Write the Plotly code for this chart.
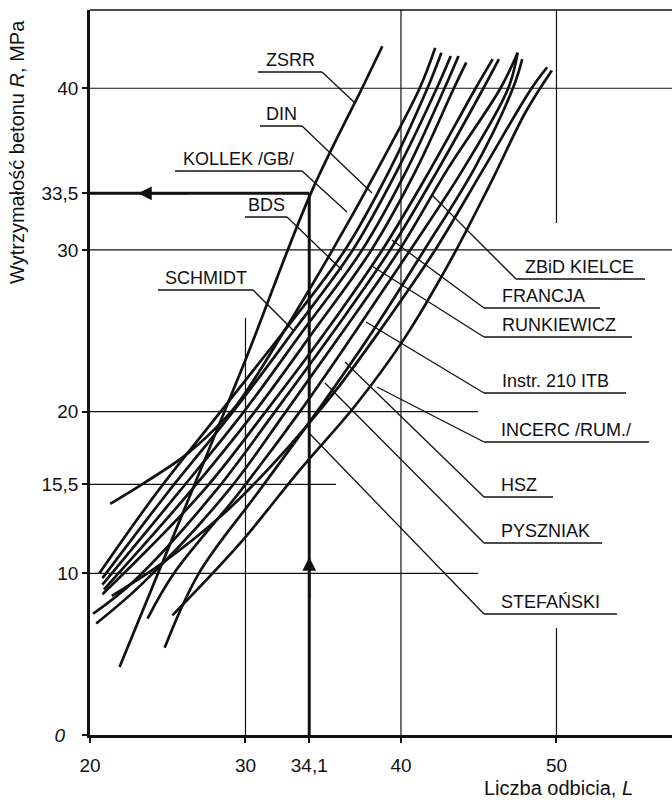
import plotly.graph_objects as go

# ---------------- data ----------------
# L = rebound number (Liczba odbicia), R = concrete strength in MPa
zsrr_L = [21.9, 26.0, 30.0, 34.2, 37.6, 38.8]
zsrr_R = [4.2, 13.8, 23.2, 33.5, 40.2, 42.6]

c1_L = [21.3, 23.5, 26.0, 28.0, 29.5, 32.5, 35.6, 38.5, 41.2, 42.2]
c1_R = [14.3, 15.6, 17.2, 18.9, 20.5, 25.0, 30.0, 35.0, 40.0, 42.5]
c2_L = [20.6, 24.3, 28.4, 32.5, 36.4, 39.3, 41.7, 42.6]
c2_R = [10.0, 15.0, 20.0, 25.0, 30.0, 35.0, 40.0, 42.2]
c3_L = [20.8, 25.0, 29.2, 33.1, 36.9, 39.8, 42.3, 43.2]
c3_R = [9.7, 15.0, 20.0, 25.0, 30.0, 35.0, 40.0, 42.0]
c4_L = [20.8, 25.7, 29.9, 33.7, 37.5, 40.4, 42.8, 43.7]
c4_R = [9.3, 15.0, 20.0, 25.0, 30.0, 35.0, 40.0, 42.0]
c5_L = [20.9, 26.4, 30.6, 34.4, 38.1, 41.0, 43.4, 44.2]
c5_R = [9.0, 15.0, 20.0, 25.0, 30.0, 35.0, 40.0, 41.6]
c6_L = [20.8, 27.2, 31.3, 35.2, 38.8, 41.9, 44.8, 45.9]
c6_R = [8.7, 15.0, 20.0, 25.0, 30.0, 35.0, 40.0, 41.8]
c7_L = [20.2, 22.8, 28.0, 31.9, 35.7, 39.3, 42.4, 45.3, 46.3]
c7_R = [7.5, 9.5, 15.0, 20.0, 25.0, 30.0, 35.0, 40.0, 41.8]
c8_L = [20.4, 23.3, 28.8, 32.6, 36.3, 39.9, 43.0, 46.4, 47.5]
c8_R = [6.9, 9.3, 15.0, 20.0, 25.0, 30.0, 35.0, 40.0, 42.2]
c9_L = [23.7, 25.4, 29.6, 33.5, 37.1, 40.6, 44.0, 46.9, 47.5]
c9_R = [7.2, 10.0, 15.0, 20.0, 25.0, 30.0, 35.0, 40.0, 42.2]
c10_L = [24.8, 27.0, 30.8, 34.6, 38.2, 41.5, 44.7, 47.2, 47.8]
c10_R = [5.4, 10.0, 15.0, 20.0, 25.0, 30.0, 35.0, 40.0, 41.8]
c11_L = [21.4, 24.6, 28.5, 32.0, 35.8, 39.0, 42.2, 45.3, 48.4, 49.4]
c11_R = [8.6, 10.6, 13.6, 17.0, 21.3, 25.5, 30.0, 35.0, 40.0, 41.3]
c12_L = [25.3, 29.6, 33.5, 37.0, 40.2, 43.1, 45.8, 48.0, 49.7]
c12_R = [7.4, 11.8, 16.4, 20.3, 24.5, 29.2, 34.2, 38.5, 41.1]

# worked example read-off
reading_L = 34.1
reading_R = 33.5

# tick values / labels
x_ticks = [20, 30, 34.1, 40, 50]
x_ticktext = ["20", "30", "34,1", "40", "50"]
y_ticks = [0, 10, 15.5, 20, 30, 33.5, 40]
y_ticktext = ["<i>0</i>\u2002\u2009", "10", "15,5", "20", "30", "33,5", "40"]

# curve labels
left_labels = ["ZSRR", "DIN", "KOLLEK /GB/", "BDS", "SCHMIDT"]
right_labels = ["ZBiD KIELCE", "FRANCJA", "RUNKIEWICZ", "Instr. 210 ITB",
                "INCERC /RUM./", "HSZ", "PYSZNIAK", "STEFAŃSKI"]

# ---------------- layout constants ----------------
W, H = 672, 800
ML, MR, MT, MB = 90, 0, 10, 65
X_RANGE = [20, 57.43]
Y_RANGE = [0, 44.84]
PW, PH = W - ML - MR, H - MT - MB


def Lpx(px):
    """window pixel x -> data L"""
    return X_RANGE[0] + (px - ML) / PW * (X_RANGE[1] - X_RANGE[0])


def Rpx(py):
    """window pixel y -> data R"""
    return Y_RANGE[0] + (H - MB - py) / PH * (Y_RANGE[1] - Y_RANGE[0])


FONT = "Liberation Sans, Arial, Helvetica, sans-serif"
INK = "#111111"

curves = [(zsrr_L, zsrr_R), (c1_L, c1_R), (c2_L, c2_R), (c3_L, c3_R), (c4_L, c4_R),
          (c5_L, c5_R), (c6_L, c6_R), (c7_L, c7_R), (c8_L, c8_R), (c9_L, c9_R),
          (c10_L, c10_R), (c11_L, c11_R), (c12_L, c12_R)]

fig = go.Figure()

for i, (xs, ys) in enumerate(curves):
    fig.add_trace(go.Scatter(x=xs, y=ys, mode="lines",
                             line=dict(color=INK, width=2.7, shape="spline", smoothing=1.0),
                             name=f"curve {i}", showlegend=False, hoverinfo="x+y"))

# read-off lines
fig.add_trace(go.Scatter(x=[reading_L, reading_L], y=[0, reading_R], mode="lines",
                         line=dict(color=INK, width=3), showlegend=False, hoverinfo="skip"))
fig.add_trace(go.Scatter(x=[X_RANGE[0], reading_L], y=[reading_R, reading_R], mode="lines",
                         line=dict(color=INK, width=3), showlegend=False, hoverinfo="skip"))

shapes = []
GRID = dict(color=INK, width=1.2)
# horizontal grid segments (R value, right end in window px)
for r, xend_px in [(40, 672), (30, 672), (20, 478), (15.5, 336), (10, 478)]:
    shapes.append(dict(type="line", xref="x", yref="y", x0=X_RANGE[0], x1=Lpx(xend_px),
                       y0=r, y1=r, line=GRID, layer="below"))
# vertical grid segments (L value, window py from, to)
for l, y0px, y1px in [(30, 735, 318), (40, 735, 10), (50, 735, 628), (50, 223, 10)]:
    shapes.append(dict(type="line", xref="x", yref="y", x0=l, x1=l,
                       y0=Rpx(y0px), y1=Rpx(y1px), line=GRID, layer="below"))
# top border
shapes.append(dict(type="line", xref="paper", yref="paper", x0=0, x1=1, y0=1, y1=1,
                   line=dict(color=INK, width=1.6)))

LEAD = dict(color=INK, width=1.3)
LABEL_FONT = dict(family=FONT, size=18, color=INK)
annotations = []
# left labels: (underline x0, x1, y, leader end x, y) in window px
left_geo = [(258, 322, 72, 355, 103), (260, 302, 126, 372, 193), (175, 302, 171, 347, 212),
            (245, 287, 217, 342, 270), (158, 253, 290, 293, 330)]
for txt, (ux0, ux1, uy, ex, ey) in zip(left_labels, left_geo):
    shapes.append(dict(type="line", xref="x", yref="y", x0=Lpx(ux0), x1=Lpx(ux1),
                       y0=Rpx(uy), y1=Rpx(uy), line=LEAD))
    shapes.append(dict(type="line", xref="x", yref="y", x0=Lpx(ux1), x1=Lpx(ex),
                       y0=Rpx(uy), y1=Rpx(ey), line=LEAD))
    annotations.append(dict(x=Lpx((ux0 + ux1) / 2), y=Rpx(uy - 12), xref="x", yref="y",
                            text=txt, showarrow=False, xanchor="center", yanchor="middle",
                            font=LABEL_FONT))

# right labels: (leader start x, y, underline x0, x1, y, text x) in window px
right_geo = [(432, 195, 516, 645, 279, 523), (392, 240, 484, 600, 308, 500),
             (372, 266, 484, 632, 337, 500), (366, 322, 484, 626, 393, 500),
             (377, 387, 484, 649, 442, 499), (345, 362, 484, 553, 497, 499),
             (325, 383, 484, 602, 543, 499), (309, 433, 484, 617, 614, 499)]
for txt, (sx, sy, ux0, ux1, uy, tx) in zip(right_labels, right_geo):
    shapes.append(dict(type="line", xref="x", yref="y", x0=Lpx(ux0), x1=Lpx(ux1),
                       y0=Rpx(uy), y1=Rpx(uy), line=LEAD))
    shapes.append(dict(type="line", xref="x", yref="y", x0=Lpx(sx), x1=Lpx(ux0),
                       y0=Rpx(sy), y1=Rpx(uy), line=LEAD))
    annotations.append(dict(x=Lpx(tx), y=Rpx(uy - 12), xref="x", yref="y",
                            text=txt, showarrow=False, xanchor="left", yanchor="middle",
                            font=LABEL_FONT))

# arrowheads on the read-off lines
annotations.append(dict(x=reading_L, y=Rpx(557), ax=reading_L, ay=Rpx(600), xref="x", yref="y",
                        axref="x", ayref="y", text="", showarrow=True, arrowhead=2,
                        arrowsize=1.1, arrowwidth=2.5, arrowcolor=INK, standoff=0))
annotations.append(dict(x=Lpx(138), y=reading_R, ax=Lpx(190), ay=reading_R, xref="x", yref="y",
                        axref="x", ayref="y", text="", showarrow=True, arrowhead=2,
                        arrowsize=1.1, arrowwidth=2.5, arrowcolor=INK, standoff=0))

# axis titles (positions in window px converted to paper fractions)
annotations.append(dict(xref="paper", yref="paper", x=(17 - ML) / PW,
                        y=(H - MB - 152) / PH,
                        text="Wytrzymałość betonu <i>R</i>, MPa",
                        textangle=-90, showarrow=False, xanchor="center", yanchor="middle",
                        font=dict(family=FONT, size=20, color=INK)))
annotations.append(dict(xref="paper", yref="paper", x=(558 - ML) / PW,
                        y=(H - MB - 787.5) / PH,
                        text="Liczba odbicia, <i>L</i>",
                        showarrow=False, xanchor="center", yanchor="middle",
                        font=dict(family=FONT, size=20, color=INK)))

fig.update_layout(
    width=W, height=H, margin=dict(l=ML, r=MR, t=MT, b=MB, autoexpand=False),
    paper_bgcolor="white", plot_bgcolor="white", showlegend=False,
    shapes=shapes, annotations=annotations,
    font=dict(family=FONT, size=19, color=INK),
)
fig.update_xaxes(range=X_RANGE, tickvals=x_ticks, ticktext=x_ticktext, showgrid=False,
                 zeroline=False, showline=True, linewidth=2.5, linecolor=INK,
                 ticks="outside", ticklen=5, tickwidth=1.5, tickcolor=INK,
                 ticklabelstandoff=6, tickfont=dict(family=FONT, size=19, color=INK))
fig.update_yaxes(range=Y_RANGE, tickvals=y_ticks, ticktext=y_ticktext, showgrid=False,
                 zeroline=False, showline=True, linewidth=2.5, linecolor=INK,
                 ticks="outside", ticklen=5, tickwidth=1.5, tickcolor=INK,
                 tickfont=dict(family=FONT, size=19, color=INK))

# the page's default 8px body margin would shift the 672x800 figure; remove it
fig.write_html("out.html", config={"displayModeBar": False},
               post_script="document.body.style.margin='0px';")
